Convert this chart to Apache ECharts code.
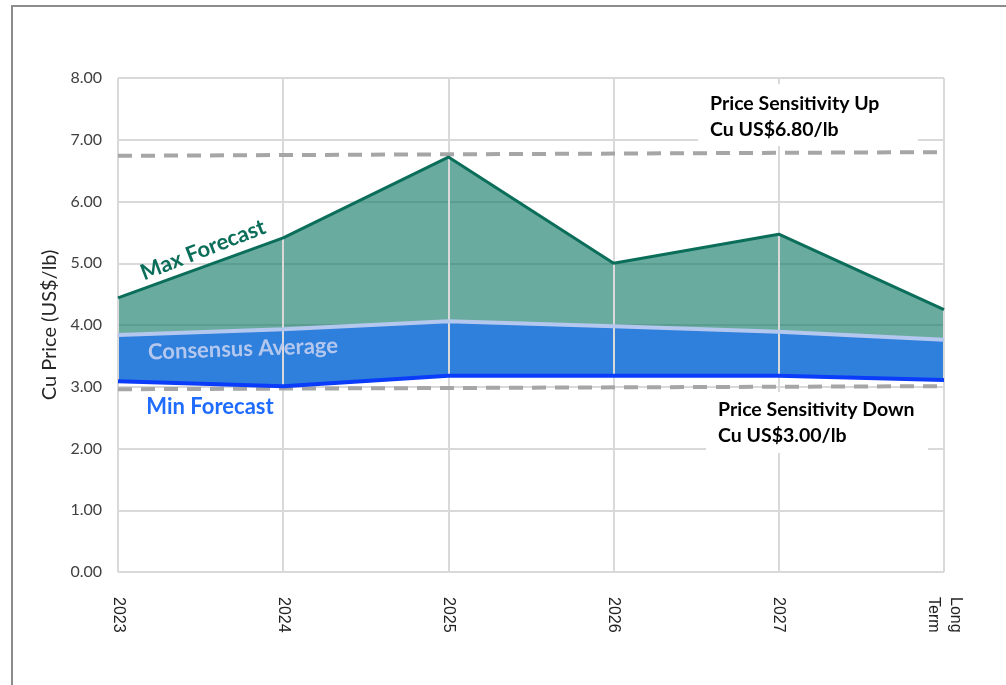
<!DOCTYPE html>
<html>
<head>
<meta charset="utf-8">
<script src="https://cdn.jsdelivr.net/npm/echarts@6/dist/echarts.min.js"></script>
<style>
  html, body { margin: 0; padding: 0; background: #fff; }
  #chart { width: 1006px; height: 685px; }
</style>
</head>
<body>
<div id="chart"></div>
<script>
// --- data ---
const categories = ['2023', '2024', '2025', '2026', '2027', 'Long\nTerm'];
const maxForecast = [4.44, 5.41, 6.72, 5.00, 5.47, 4.25];
const consensusAvg = [3.84, 3.93, 4.06, 3.98, 3.89, 3.76];
const minForecast = [3.09, 3.01, 3.18, 3.18, 3.18, 3.11];
// sensitivity lines (start / end as drawn, slightly tilted)
const sensUpLine = [6.74, 6.80];
const sensDownLine = [2.96, 3.01];
const yTicks = { min: 0, max: 8, interval: 1 };

const GRID = '#d9d9d9';
const GREEN_LINE = '#0b6e5a';
const CONS_LINE = '#b4c7ee';
const BLUE_FILL = '#2f80dc';
const MIN_LINE = '#0a3cfa';
const DASH = '#a6a6a6';
const FONT = 'Lato, "Open Sans", sans-serif';

// stacked bands built from the arrays
const blueBand = consensusAvg.map((v, i) => +(v - minForecast[i]).toFixed(2));
const greenBand = maxForecast.map((v, i) => +(v - consensusAvg[i]).toFixed(2));
const last = categories[categories.length - 1];

const chart = echarts.init(document.getElementById('chart'));

function labelBox(x, y, w, h, lines, textX, textY) {
  return [
    { type: 'rect', shape: { x, y, width: w, height: h }, style: { fill: '#fff' }, z: 10 },
    {
      type: 'text', x: textX, y: textY, z: 11,
      style: { text: lines.join('\n'), font: 'bold 19.5px ' + FONT, fill: '#000', lineHeight: 26 }
    }
  ];
}

const option = {
  backgroundColor: '#fff',
  animation: false,
  grid: { left: 118, right: 62, top: 78, bottom: 113 },
  xAxis: {
    type: 'category',
    data: categories,
    boundaryGap: false,
    z: 3,
    axisLine: { show: false },
    axisTick: { show: false },
    axisLabel: {
      rotate: -90,
      margin: 25,
      color: '#222',
      fontSize: 16,
      fontFamily: '"Liberation Sans", Arial, sans-serif',
      lineHeight: 22
    },
    splitLine: { show: true, lineStyle: { color: GRID, width: 2 } }
  },
  yAxis: {
    type: 'value',
    min: yTicks.min,
    max: yTicks.max,
    interval: yTicks.interval,
    name: 'Cu Price (US$/lb)',
    nameLocation: 'middle',
    nameGap: 58,
    nameTextStyle: { fontSize: 20, color: '#262626', fontFamily: FONT },
    axisLine: { show: false },
    axisTick: { show: false },
    axisLabel: {
      formatter: (v) => v.toFixed(2),
      color: '#404040',
      fontSize: 16,
      margin: 16,
      fontFamily: FONT
    },
    splitLine: { show: true, lineStyle: { color: GRID, width: 2 } }
  },
  series: [
    {
      name: 'base', type: 'line', stack: 'band', data: minForecast,
      symbol: 'none', lineStyle: { width: 0 }, z: 1, silent: true
    },
    {
      name: 'blueBand', type: 'line', stack: 'band', data: blueBand,
      symbol: 'none', lineStyle: { width: 0 }, areaStyle: { color: BLUE_FILL, opacity: 1 }, z: 1
    },
    {
      name: 'greenBand', type: 'line', stack: 'band', data: greenBand,
      symbol: 'none', lineStyle: { width: 0 }, areaStyle: { color: 'rgba(13,120,100,0.62)', opacity: 1 }, z: 1
    },
    {
      name: 'Min Forecast', type: 'line', data: minForecast, symbol: 'none', z: 5,
      lineStyle: { color: MIN_LINE, width: 4 }
    },
    {
      name: 'Consensus Average', type: 'line', data: consensusAvg, symbol: 'none', z: 5,
      lineStyle: { color: CONS_LINE, width: 4 }
    },
    {
      name: 'Max Forecast', type: 'line', data: maxForecast, symbol: 'none', z: 5,
      lineStyle: { color: GREEN_LINE, width: 3 },
      markLine: {
        silent: true,
        symbol: 'none',
        label: { show: false },
        lineStyle: { color: DASH, type: [14, 9], width: 4 },
        data: [
          [{ coord: [categories[0], sensUpLine[0]] }, { coord: [last, sensUpLine[1]] }],
          [{ coord: [categories[0], sensDownLine[0]] }, { coord: [last, sensDownLine[1]] }]
        ]
      }
    }
  ],
  graphic: [
    // outer frame
    {
      type: 'polyline', z: 20,
      shape: { points: [[12, 686], [12, 6], [1006, 6]] },
      style: { stroke: '#8c8c8c', lineWidth: 2, fill: null }
    },
    ...labelBox(698, 84, 220, 62, ['Price Sensitivity Up', 'Cu US$6.80/lb'], 710, 91),
    ...labelBox(706, 392, 222, 61, ['Price Sensitivity Down', 'Cu US$3.00/lb'], 718, 397),
    {
      type: 'text', z: 12, x: 203, y: 250, rotation: 0.37,
      style: { text: 'Max Forecast', font: 'bold 22px ' + FONT, fill: GREEN_LINE, align: 'center', verticalAlign: 'middle' }
    },
    {
      type: 'text', z: 12, x: 243, y: 349, rotation: 0.035,
      style: { text: 'Consensus Average', font: 'bold 22px ' + FONT, fill: CONS_LINE, align: 'center', verticalAlign: 'middle' }
    },
    {
      type: 'text', z: 12, x: 210, y: 407,
      style: { text: 'Min Forecast', font: 'bold 22px ' + FONT, fill: '#1f6cff', align: 'center', verticalAlign: 'middle' }
    }
  ]
};

chart.setOption(option);
</script>
</body>
</html>
